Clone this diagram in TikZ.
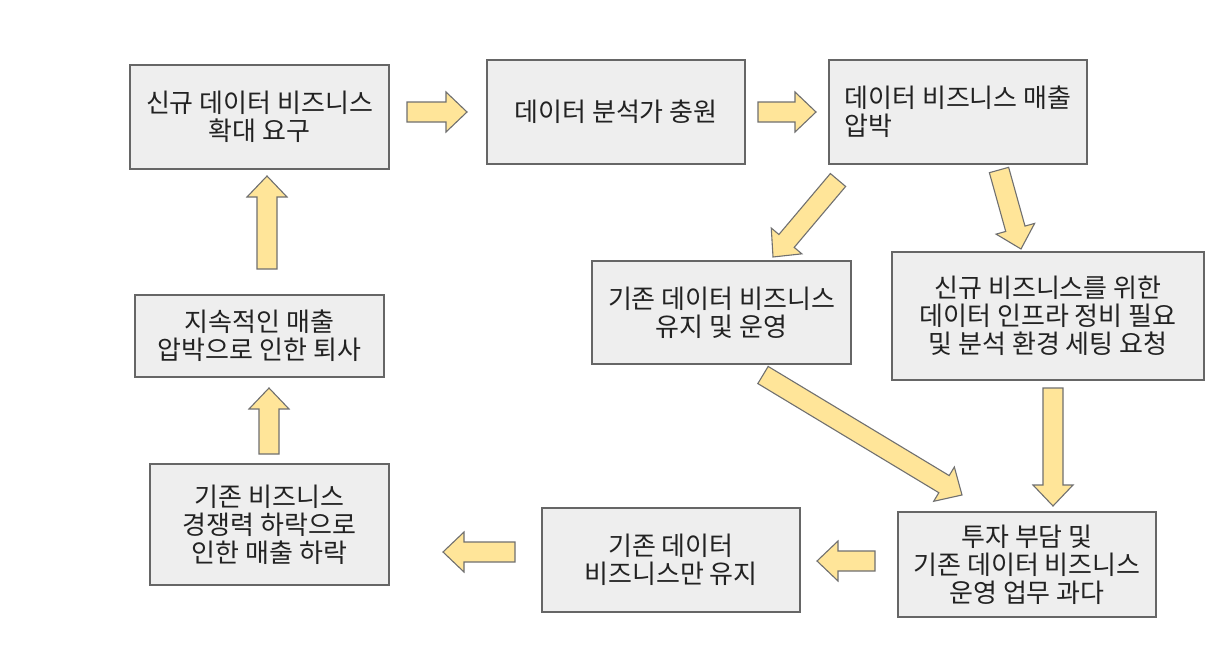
\documentclass[tikz,border=0pt]{standalone}
\usepackage{fontspec}
\setmainfont{Noto Sans CJK KR}
\usetikzlibrary{calc}
\definecolor{boxfill}{HTML}{EEEEEE}
\definecolor{boxline}{HTML}{666666}
\definecolor{arrfill}{HTML}{FFE599}
\definecolor{arrline}{HTML}{707070}
\definecolor{txt}{HTML}{222222}
\tikzset{
  box/.style={draw=boxline, fill=boxfill, line width=1.2pt, inner sep=0pt,
    text=txt, font=\fontsize{26pt}{28pt}\selectfont, align=center},
  barrowstyle/.style={draw=arrline, fill=arrfill, line width=1.1pt, line join=miter},
}
\newcommand\barrow[2]{%
  \path[barrowstyle] let \p1=($(#2)-(#1)$), \n1={atan2(\y1,\x1)}, \n2={veclen(\x1,\y1)} in
    [shift={(#1)}, rotate=\n1]
    (0pt,-10pt) -- (\n2-21pt,-10pt) -- (\n2-21pt,-20pt) -- (\n2,0pt) -- (\n2-21pt,20pt)
    -- (\n2-21pt,10pt) -- (0pt,10pt) -- cycle;}
\begin{document}
\begin{tikzpicture}[x=1pt,y=-1pt]
\useasboundingbox (0,0) rectangle (1216,664);
\fill[white] (0,0) rectangle (1216,664);
% boxes
\node[box, minimum width=259pt, minimum height=104pt] (A) at (259.5,117) {신규 데이터 비즈니스\\확대 요구};
\node[box, minimum width=258pt, minimum height=104pt] (B) at (616,112) {데이터 분석가 충원};
\node[box, minimum width=258pt, minimum height=104pt, align=left] (C) at (958,112) {데이터 비즈니스 매출\\압박};
\node[box, minimum width=259pt, minimum height=103pt] (D) at (721.5,312.5) {기존 데이터 비즈니스\\유지 및 운영};
\node[box, minimum width=312pt, minimum height=128pt] (E) at (1048,316) {신규 비즈니스를 위한\\데이터 인프라 정비 필요\\및 분석 환경 세팅 요청};
\node[box, minimum width=249pt, minimum height=82pt] (F) at (259.5,336) {지속적인 매출\\압박으로 인한 퇴사};
\node[box, minimum width=239pt, minimum height=121pt] (G) at (269.5,524.5) {기존 비즈니스\\경쟁력 하락으로\\인한 매출 하락};
\node[box, minimum width=258pt, minimum height=104pt] (H) at (671,560) {기존 데이터\\비즈니스만 유지};
\node[box, minimum width=258pt, minimum height=105pt] (I) at (1027,564.5) {투자 부담 및\\기존 데이터 비즈니스\\운영 업무 과다};
% arrow endpoints
\coordinate (ab1) at (407,112); \coordinate (ab2) at (467,112);
\coordinate (bc1) at (758,112); \coordinate (bc2) at (816,112);
\coordinate (cd1) at (838,180); \coordinate (cd2) at (773,257);
\coordinate (ce1) at (999,170); \coordinate (ce2) at (1021,249);
\coordinate (di1) at (763,375); \coordinate (di2) at (962,495);
\coordinate (ei1) at (1053,388); \coordinate (ei2) at (1053,506);
\coordinate (ih1) at (875,561); \coordinate (ih2) at (817,561);
\coordinate (hg1) at (515,552); \coordinate (hg2) at (443,552);
\coordinate (gf1) at (269,454); \coordinate (gf2) at (269,388);
\coordinate (fa1) at (267,269); \coordinate (fa2) at (267,176);
\barrow{ab1}{ab2}
\barrow{bc1}{bc2}
\barrow{cd1}{cd2}
\barrow{ce1}{ce2}
\barrow{di1}{di2}
\barrow{ei1}{ei2}
\barrow{ih1}{ih2}
\barrow{hg1}{hg2}
\barrow{gf1}{gf2}
\barrow{fa1}{fa2}
\end{tikzpicture}
\end{document}
